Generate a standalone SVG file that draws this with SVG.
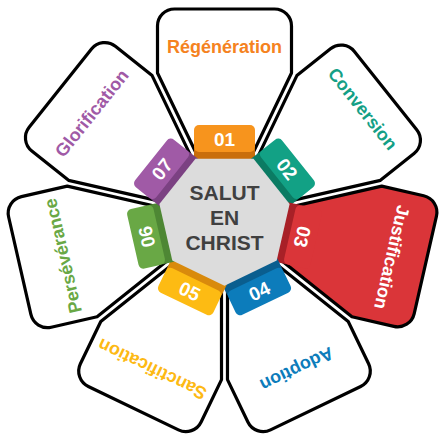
<svg xmlns="http://www.w3.org/2000/svg" width="441" height="435" viewBox="0 0 441 435">
<style>
.petal{fill:#fff;stroke:#000;stroke-width:3.2;stroke-linejoin:round}
.lbl{font-family:"Liberation Sans",Arial,sans-serif;font-weight:bold;font-size:18px;text-anchor:middle}
.num{font-family:"Liberation Sans",Arial,sans-serif;font-weight:bold;font-size:19px;fill:#fff;text-anchor:middle}
.hub{font-family:"Liberation Sans",Arial,sans-serif;font-weight:bold;font-size:21px;fill:#404040;text-anchor:middle}
</style>
<defs>
<path id="petalL" d="M0,-7 L-67,-146 L-67,-193 A17,17 0 0 1 -50,-210 L50,-210 A17,17 0 0 1 67,-193 L67,-146 Z"/>
<path id="petalS" d="M0,-7 L-67,-146 L-67,-189 A17,17 0 0 1 -50,-206 L50,-206 A17,17 0 0 1 67,-189 L67,-146 Z"/>
</defs>
<rect width="441" height="435" fill="#fff"/>
<g id="connectors"/>
<g id="node-01" transform="translate(224.5,219)">
<use href="#petalL" class="petal"/>
<rect x="-30.5" y="-72" width="61" height="16" rx="3" fill="#C96E0C"/>
<rect x="-30.5" y="-94" width="61" height="27" rx="5" fill="#F7941D"/>
<text class="num" x="0" y="-73.2">01</text>
<text class="lbl" x="0" y="-165.6" fill="#F58220">Régénération</text>
</g>
<g id="node-02" transform="translate(224.5,219) rotate(51.4286)">
<use href="#petalS" class="petal"/>
<rect x="-30.5" y="-72" width="61" height="16" rx="3" fill="#0B7B63"/>
<rect x="-30.5" y="-94" width="61" height="27" rx="5" fill="#12A185"/>
<text class="num" x="0" y="-73.2">02</text>
<text class="lbl" x="0" y="-170.6" fill="#14A085">Conversion</text>
</g>
<g id="node-03" transform="translate(224.5,219) rotate(102.857)">
<use href="#petalS" class="petal" style="fill:#DA3539"/>
<rect x="-30.5" y="-72" width="61" height="16" rx="3" fill="#A82027"/>
<rect x="-30.5" y="-94" width="61" height="27" rx="5" fill="#DA3539"/>
<text class="num" x="0" y="-73.2">03</text>
<text class="lbl" x="0" y="-165.6" fill="#fff">Justification</text>
</g>
<g id="node-04" transform="translate(224.5,219) rotate(154.286)">
<use href="#petalL" class="petal"/>
<rect x="-30.5" y="-72" width="61" height="16" rx="3" fill="#0A5E8F"/>
<rect x="-30.5" y="-94" width="61" height="27" rx="5" fill="#0C7CBB"/>
<text class="num" x="0" y="-73.2" transform="rotate(180 0 -80)">04</text>
<text class="lbl" x="0" y="-160.6" fill="#0C7CBB">Adoption</text>
</g>
<g id="node-05" transform="translate(224.5,219) rotate(205.714)">
<use href="#petalL" class="petal"/>
<rect x="-30.5" y="-72" width="61" height="16" rx="3" fill="#D98A0C"/>
<rect x="-30.5" y="-94" width="61" height="27" rx="5" fill="#FDBB13"/>
<text class="num" x="0" y="-73.2" transform="rotate(180 0 -80)">05</text>
<text class="lbl" x="0" y="-160.6" fill="#FDB913">Sanctification</text>
</g>
<g id="node-06" transform="translate(224.5,219) rotate(257.143)">
<use href="#petalL" class="petal"/>
<rect x="-30.5" y="-72" width="61" height="16" rx="3" fill="#4E8734"/>
<rect x="-30.5" y="-94" width="61" height="27" rx="5" fill="#69A845"/>
<text class="num" x="0" y="-73.2">06</text>
<text class="lbl" x="0" y="-159.6" fill="#69A845">Persévérance</text>
</g>
<g id="node-07" transform="translate(224.5,219) rotate(308.571)">
<use href="#petalL" class="petal"/>
<rect x="-30.5" y="-72" width="61" height="16" rx="3" fill="#7B4182"/>
<rect x="-30.5" y="-94" width="61" height="27" rx="5" fill="#A05AA6"/>
<text class="num" x="0" y="-73.2">07</text>
<text class="lbl" x="0" y="-163.6" fill="#A05AA6">Glorification</text>
</g>
<g id="hub">
<polygon points="195.5,158.8 253.5,158.8 289.6,204.1 276.7,260.6 224.5,285.8 172.3,260.6 159.4,204.1" fill="#DCDCDC"/>
<text class="hub" x="224.5" y="199.5">SALUT</text>
<text class="hub" x="224.5" y="225">EN</text>
<text class="hub" x="224.5" y="249.5">CHRIST</text>
</g>
</svg>
